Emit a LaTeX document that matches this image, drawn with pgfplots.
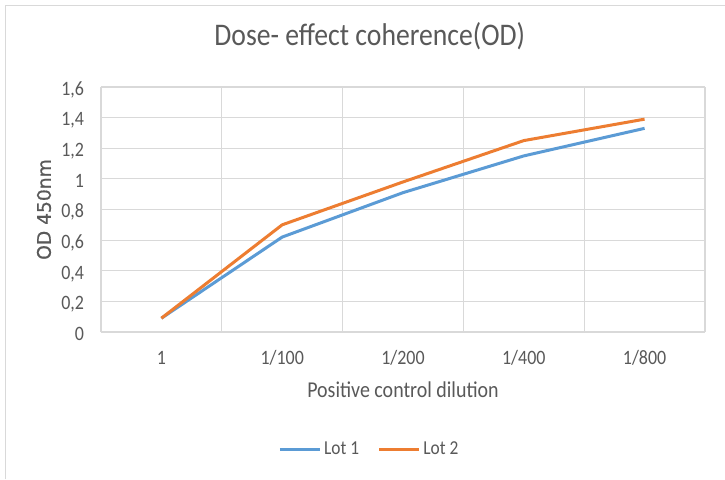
\documentclass[border=0pt]{standalone}
\usepackage{fontspec}
\setmainfont{Carlito}[FakeStretch=0.88]
\newfontfamily\dejavu{DejaVu Sans}[FakeBold=0.6]
\usepackage{pgfplots}
\pgfplotsset{compat=1.18}
\definecolor{txt}{HTML}{595959}
\definecolor{gridc}{HTML}{D9D9D9}
\definecolor{lotone}{HTML}{5B9BD5}
\definecolor{lottwo}{HTML}{ED7D31}
\begin{document}
\begin{tikzpicture}
\useasboundingbox (0,0) rectangle (543.75pt,359.25pt);
\fill[white] (0,0) rectangle (543.75pt,359.25pt);
\draw[gridc, line width=1.2pt] (4.1pt,0) -- (4.1pt,355.1pt) -- (543.75pt,355.1pt);
\begin{axis}[
  at={(75.75pt,110.25pt)}, anchor=south west,
  scale only axis, width=453pt, height=183.75pt,
  xmin=-0.5, xmax=4.5, ymin=0, ymax=1.6,
  xtick={0,1,2,3,4},
  xticklabels={1,1/100,1/200,1/400,1/800},
  minor xtick={-0.5,0.5,1.5,2.5,3.5,4.5},
  ytick={0,0.2,...,1.6},
  /pgf/number format/assume math mode=true,
  /pgf/number format/use comma,
  yticklabel={\pgfmathprintnumber[fixed,precision=1,use comma]{\tick}},
  xmajorgrids=false, xminorgrids=true, ymajorgrids=true,
  grid style={gridc, line width=0.9pt},
  minor grid style={gridc, line width=0.9pt},
  axis line style={draw=none},
  major tick length=0pt, minor tick length=0pt,
  tick style={draw=none},
  xticklabel style={font=\fontsize{15.3}{18}\selectfont, text=txt, anchor=base, inner sep=0pt, yshift=-24.5pt},
  yticklabel style={font=\fontsize{15.3}{18}\selectfont, text=txt, anchor=base east, inner sep=0pt, xshift=-12.5pt, yshift=-6.2pt},
  title={Dose- effect coherence(OD)},
  title style={font=\fontsize{23.6}{28}\selectfont, text=txt, at={(axis description cs:0.445,1.176)}, anchor=center},
  xlabel={Positive control dilution},
  xlabel style={font=\fontsize{17}{20}\selectfont, text=txt, at={(axis description cs:0.5,-0.237)}, anchor=center},
  ylabel={OD 450nm},
  ylabel style={font=\dejavu\fontsize{14}{17}\selectfont, text=txt, at={(axis description cs:-0.0944,0.5)}, anchor=center, rotate=0},
  legend style={at={(axis description cs:0.445,-0.478)}, anchor=center, draw=none, fill=none,
    legend columns=2, font=\fontsize{14.8}{18}\selectfont, text=txt,
    /tikz/every even column/.append style={column sep=12pt}},
  legend cell align=left,
  legend image code/.code={\draw[#1, line width=2.25pt] (0pt,0pt) -- (30pt,0pt);},
  clip=false,
]
\addplot[lotone, line width=2.25pt, line join=round] coordinates {(0,0.09) (1,0.62) (2,0.91) (3,1.15) (4,1.33)};
\addlegendentry{Lot 1}
\addplot[lottwo, line width=2.25pt, line join=round] coordinates {(0,0.09) (1,0.70) (2,0.98) (3,1.25) (4,1.39)};
\addlegendentry{Lot 2}
\end{axis}
\end{tikzpicture}
\end{document}
